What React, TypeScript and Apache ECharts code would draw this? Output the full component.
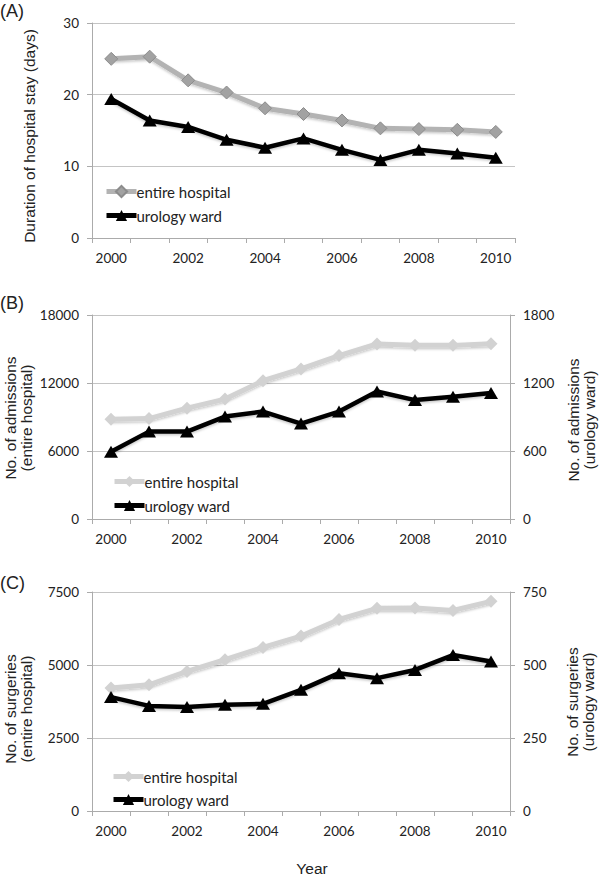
import React, { useEffect, useRef } from "react";
import * as echarts from "echarts";

const years = ["2000", "2001", "2002", "2003", "2004", "2005", "2006", "2007", "2008", "2009", "2010"];

// (A) duration of hospital stay (days)
const stayEntire = [25.0, 25.3, 22.0, 20.3, 18.1, 17.3, 16.4, 15.3, 15.2, 15.1, 14.8];
const stayUrology = [19.4, 16.4, 15.5, 13.7, 12.6, 13.9, 12.3, 10.9, 12.3, 11.8, 11.2];

// (B) number of admissions
const admEntire = [8810, 8860, 9780, 10580, 12200, 13240, 14420, 15440, 15320, 15320, 15470];
const admUrology = [594, 771, 771, 904, 948, 842, 948, 1125, 1049, 1078, 1111];

// (C) number of surgeries
const surgEntire = [4210, 4320, 4780, 5180, 5600, 5990, 6560, 6940, 6950, 6870, 7180];
const surgUrology = [390, 360, 356, 364, 367, 415, 472, 455, 483, 534, 512];

const seriesNames = ["entire hospital", "urology ward"];

const FONT_TICK = "Lato, 'Open Sans', sans-serif";
const FONT_NAME = "'Liberation Sans', Arial, sans-serif";
const AXIS_GRAY = "#ababab";
const GRID_GRAY = "#c4c4c4";

function xAxisFor(gridIndex: number) {
  return {
    type: "category",
    gridIndex,
    data: years,
    boundaryGap: true,
    axisLine: { show: true, lineStyle: { color: AXIS_GRAY, width: 1 } },
    axisTick: { show: true, interval: 0, length: 5, lineStyle: { color: AXIS_GRAY } },
    axisLabel: { interval: 1, margin: 13, fontFamily: FONT_TICK, fontSize: 13.5, color: "#222" },
    splitLine: { show: false },
  };
}

function yAxisFor(gridIndex: number, max: number, interval: number, position: string, showSplit: boolean) {
  return {
    type: "value",
    gridIndex,
    position,
    min: 0,
    max,
    interval,
    axisLine: { show: true, onZero: false, lineStyle: { color: AXIS_GRAY, width: 1 } },
    axisTick: { show: true, length: 5, lineStyle: { color: AXIS_GRAY } },
    axisLabel: {
      margin: 13,
      fontFamily: FONT_TICK,
      fontSize: 13.5,
      color: "#222",
      formatter: (v: number) => String(v),
    },
    splitLine: { show: showSplit, lineStyle: { color: GRID_GRAY, width: 1 } },
  };
}

const shadow = { shadowColor: "rgba(0,0,0,0.22)", shadowBlur: 2, shadowOffsetY: 1.5 };

function entireSeries(prefix: string, data: number[], xi: number, yi: number, dark: boolean) {
  return {
    name: prefix + seriesNames[0],
    type: "line",
    xAxisIndex: xi,
    yAxisIndex: yi,
    data,
    symbol: "diamond",
    symbolSize: 13,
    lineStyle: { color: dark ? "#b3b3b3" : "#d2d2d2", width: 5, ...shadow },
    itemStyle: dark
      ? { color: "#a2a2a2", borderColor: "#8c8c8c", borderWidth: 1 }
      : { color: "#d2d2d2", borderColor: "#d2d2d2", borderWidth: 0 },
    z: 2,
  };
}

function urologySeries(prefix: string, data: number[], xi: number, yi: number) {
  return {
    name: prefix + seriesNames[1],
    type: "line",
    xAxisIndex: xi,
    yAxisIndex: yi,
    data,
    symbol: "triangle",
    symbolSize: [14, 12],
    lineStyle: { color: "#000000", width: 4.5, ...shadow },
    itemStyle: { color: "#000000" },
    z: 3,
  };
}

function legendFor(prefix: string, left: number, top: number, gap: number) {
  return {
    orient: "vertical",
    left,
    top,
    padding: 0,
    itemWidth: 30,
    itemHeight: 14,
    itemGap: gap,
    selectedMode: false,
    lineStyle: { width: 5 },
    data: seriesNames.map((n) => prefix + n),
    formatter: (name: string) => name.split(":")[1],
    textStyle: { fontFamily: FONT_TICK, fontSize: 15, color: "#222", lineHeight: 14, padding: [0, 0, 0, -5] },
  };
}

function nameText(text: string, x: number, y: number) {
  return {
    type: "text",
    x,
    y,
    rotation: Math.PI / 2,
    style: {
      text,
      align: "center",
      verticalAlign: "middle",
      fontFamily: FONT_NAME,
      fontSize: 15.5,
      lineHeight: 16,
      fill: "#222",
    },
  };
}

function panelLabel(text: string, x: number, y: number) {
  return {
    type: "text",
    x,
    y,
    style: { text, align: "left", verticalAlign: "middle", fontFamily: FONT_NAME, fontSize: 18, fill: "#222" },
  };
}

export default function App() {
  const ref = useRef<HTMLDivElement>(null);

  useEffect(() => {
    if (!ref.current) return;
    const chart = echarts.init(ref.current, undefined, { renderer: "svg" });
    chart.setOption({
      animation: false,
      backgroundColor: "#ffffff",
      grid: [
        { left: 92, top: 23, width: 423, height: 215 },
        { left: 92, top: 315, width: 418, height: 204 },
        { left: 92, top: 592, width: 418, height: 219 },
      ],
      xAxis: [xAxisFor(0), xAxisFor(1), xAxisFor(2)],
      yAxis: [
        yAxisFor(0, 30, 10, "left", true),
        yAxisFor(1, 18000, 6000, "left", true),
        yAxisFor(1, 1800, 600, "right", false),
        yAxisFor(2, 7500, 2500, "left", true),
        yAxisFor(2, 750, 250, "right", false),
      ],
      legend: [
        legendFor("A:", 104, 184, 9),
        legendFor("B:", 112, 474, 9),
        legendFor("C:", 111, 769, 8),
      ],
      series: [
        entireSeries("A:", stayEntire, 0, 0, true),
        urologySeries("A:", stayUrology, 0, 0),
        entireSeries("B:", admEntire, 1, 1, false),
        urologySeries("B:", admUrology, 1, 2),
        entireSeries("C:", surgEntire, 2, 3, false),
        urologySeries("C:", surgUrology, 2, 4),
      ],
      graphic: [
        panelLabel("(A)", 0, 11),
        panelLabel("(B)", 0, 303),
        panelLabel("(C)", 0, 583),
        nameText("Duration of hospital stay (days)", 29.5, 136),
        nameText("No. of admissions\n(entire hospital)", 18.5, 418),
        nameText("No. of admissions\n(urology ward)", 581.5, 420),
        nameText("No. of surgeries\n(entire hospital)", 18.5, 709),
        nameText("No. of surgeries\n(urology ward)", 580, 702),
        {
          type: "text",
          x: 312,
          y: 868,
          style: { text: "Year", align: "center", verticalAlign: "middle", fontFamily: FONT_NAME, fontSize: 15.5, fill: "#222" },
        },
      ],
    });
    return () => chart.dispose();
  }, []);

  return (
    <div
      ref={ref}
      style={{ position: "absolute", left: 0, top: 0, width: 600, height: 876, background: "#fff" }}
    />
  );
}
